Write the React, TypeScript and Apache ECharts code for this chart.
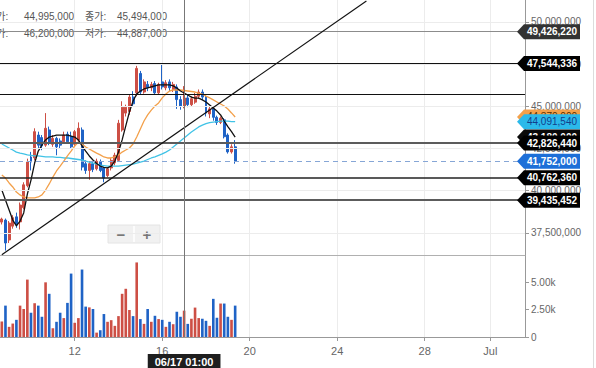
import React, { useEffect, useRef } from "react";
import * as echarts from "echarts";

// ---------- data ----------
// 4-hour slots starting 2021-06-08 17:00 (KST)
const SLOT_START = Date.UTC(2021, 5, 8, 17);
const SLOT_COUNT = 144;

// [open, close, low, high] in millions of KRW
const candles: number[][] = [
  [38.14, 38.32, 38.0, 38.4], [38.26, 36.9, 36.45, 38.35], [37.08, 38.08, 36.9, 38.2], [37.9, 38.4, 37.75, 38.55],
  [38.45, 38.0, 37.8, 38.7], [38.15, 39.15, 37.7, 39.3], [39.0, 40.35, 38.9, 40.5], [40.3, 41.7, 40.2, 41.9],
  [42.0, 41.7, 41.2, 42.3], [41.95, 43.5, 41.8, 43.7], [43.3, 42.7, 42.5, 43.5], [43.15, 42.65, 42.4, 43.3],
  [42.7, 43.7, 42.6, 44.6], [43.6, 42.85, 42.7, 43.8], [42.75, 43.1, 42.6, 43.3], [43.1, 42.6, 42.1, 43.2],
  [42.95, 42.7, 42.5, 43.1], [42.9, 43.3, 42.8, 43.5], [43.35, 42.9, 42.8, 43.5], [43.2, 42.6, 42.5, 43.5],
  [42.75, 43.5, 42.6, 43.6], [43.0, 43.7, 42.9, 44.05], [43.6, 41.4, 41.2, 43.75], [41.6, 41.2, 41.0, 41.8],
  [41.2, 41.6, 40.65, 41.75], [41.6, 41.25, 41.1, 41.75], [41.3, 41.75, 41.2, 41.9], [41.7, 41.2, 41.1, 41.85],
  [41.35, 40.75, 40.5, 41.4], [40.9, 41.3, 40.8, 41.4], [41.35, 41.8, 41.2, 41.95], [41.65, 42.1, 41.5, 42.25],
  [41.8, 44.0, 41.7, 44.2], [43.6, 44.95, 43.5, 45.3], [44.6, 44.95, 44.4, 45.1], [44.7, 45.55, 44.5, 45.7],
  [45.55, 45.15, 45.0, 45.9], [45.8, 47.25, 45.6, 47.4], [46.95, 45.85, 45.7, 47.1], [45.85, 46.45, 45.75, 46.6],
  [46.3, 46.1, 45.9, 46.5], [46.1, 46.3, 45.9, 46.45], [46.35, 45.8, 45.7, 46.5], [45.8, 46.3, 45.7, 46.4],
  [46.45, 46.15, 46.0, 47.54], [46.1, 46.4, 45.95, 46.55], [46.45, 46.1, 45.9, 46.6], [46.0, 46.3, 45.85, 46.45],
  [46.15, 45.4, 44.85, 46.3], [45.4, 44.99, 44.8, 45.6], [44.995, 45.494, 44.887, 46.2], [45.5, 45.1, 44.95, 45.7],
  [45.1, 45.45, 45.0, 45.6], [45.25, 45.6, 45.15, 45.8], [45.6, 45.85, 45.45, 46.0], [45.85, 45.55, 45.4, 46.0],
  [45.55, 44.6, 44.4, 45.7], [44.55, 44.85, 44.3, 45.0], [44.85, 44.35, 44.15, 44.95], [44.35, 44.05, 43.9, 44.45],
  [44.05, 44.3, 43.95, 44.4], [44.2, 43.2, 43.1, 44.3], [43.3, 42.3, 42.2, 43.4], [42.3, 42.6, 42.2, 42.75],
  [42.6, 41.752, 41.6, 43.0],
];

// volume, thousands
const volumes = [
  1.42, 2.87, 0.93, 1.23, 1.57, 2.87, 2.56, 5.25, 2.22, 3.09, 2.87, 1.85, 5.0, 3.95, 0.8, 1.39,
  2.22, 1.73, 3.12, 5.8, 1.3, 1.73, 6.17, 2.78, 2.71, 2.56, 0.4, 0.62, 2.1, 1.39, 1.54, 1.02,
  1.91, 3.95, 4.41, 2.47, 1.91, 6.82, 1.64, 1.2, 2.56, 1.39, 1.94, 1.64, 1.57, 0.93, 1.39, 1.17,
  2.31, 1.85, 2.41, 1.2, 1.67, 2.69, 1.73, 1.67, 1.48, 1.02, 3.49, 1.76, 3.06, 3.06, 1.85, 1.57, 2.87,
];

// moving averages (millions)
const maShort = [
  40.04, 39.45, 38.86, 38.26, 37.91, 38.2, 38.68, 39.8, 40.63, 41.64, 42.35, 42.71, 43.01, 43.18, 43.24, 43.3,
  43.3, 43.3, 43.3, 43.24, 43.18, 43.01, 42.65, 42.35, 42.06, 41.82, 41.61, 41.46, 41.38, 41.35, 41.46, 41.76,
  42.29, 43.01, 43.84, 44.67, 45.32, 45.73, 45.91, 46.03, 46.09, 46.15, 46.21, 46.27, 46.27, 46.27, 46.27, 46.21,
  46.09, 45.91, 45.79, 45.67, 45.55, 45.49, 45.49, 45.38, 45.26, 45.08, 44.9, 44.72, 44.49, 44.13, 43.8, 43.5, 43.18,
];
const maMid = [
  40.93, 40.75, 40.46, 40.22, 39.92, 39.75, 39.63, 39.57, 39.57, 39.57, 39.63, 39.75, 40.04, 40.4, 40.81, 41.17,
  41.46, 41.76, 42.06, 42.35, 42.65, 42.89, 42.77, 42.59, 42.47, 42.35, 42.23, 42.12, 42.0, 41.94, 41.94, 42.0,
  42.12, 42.29, 42.41, 42.53, 42.77, 43.18, 43.66, 44.13, 44.49, 44.78, 45.02, 45.2, 45.5, 45.73, 45.91, 45.97,
  45.97, 45.97, 45.94, 45.91, 45.88, 45.85, 45.79, 45.73, 45.61, 45.5, 45.38, 45.26, 45.14, 45.02, 44.84, 44.61, 44.37,
];
const maLong = [
  42.77, 42.65, 42.53, 42.41, 42.29, 42.23, 42.18, 42.12, 42.09, 42.06, 42.06, 42.03, 42.0, 42.0, 42.0, 41.97,
  41.97, 41.94, 41.94, 41.91, 41.88, 41.85, 41.82, 41.76, 41.7, 41.64, 41.58, 41.52, 41.49, 41.46, 41.46, 41.46,
  41.46, 41.49, 41.52, 41.55, 41.58, 41.64, 41.7, 41.76, 41.85, 41.94, 42.0, 42.09, 42.18, 42.29, 42.41, 42.59,
  42.77, 42.95, 43.12, 43.3, 43.48, 43.63, 43.78, 43.89, 43.98, 44.04, 44.07, 44.1, 44.13, 44.13, 44.13, 44.1, 44.09154,
];

// horizontal price levels (KRW)
const levelValues = [49426220, 47544336, 45714000, 42826440, 41752000, 40762360, 39435452];
// levels that carry a tag on the price axis
const taggedLevels = [49426220, 47544336, 42826440, 41752000, 40762360, 39435452];

// trend line: [slot index, price in millions]
const trendPoints: [number, number][] = [[0, 36.21], [100, 51.25]];

const priceTicks = [37500000, 40000000, 42500000, 45000000, 47500000, 50000000];
const PRICE_MIN = 36189000;
const PRICE_MAX = 51304000;
const VOLUME_MAX = 7500;

const xTickLabels: Record<string, string> = {
  "06/12 01:00": "12",
  "06/16 01:00": "16",
  "06/20 01:00": "20",
  "06/24 01:00": "24",
  "06/28 01:00": "28",
  "07/01 01:00": "Jul",
};

const CROSS_INDEX = 50;

// ---------- build ----------
const pad = (n: number) => String(n).padStart(2, "0");
const categories: string[] = [];
for (let i = 0; i < SLOT_COUNT; i++) {
  const d = new Date(SLOT_START + i * 4 * 3600 * 1000);
  categories.push(`${pad(d.getUTCMonth() + 1)}/${pad(d.getUTCDate())} ${pad(d.getUTCHours())}:00`);
}
const M = (v: number) => Math.round(v * 1e6);
const fmt = (v: number) => Math.round(v).toLocaleString("en-US");

const FONT = 'Arial, "Liberation Sans", "Noto Sans CJK KR", sans-serif';
const RED = "#cd4f45";
const BLUE = "#1f63c6";

const showTick = (_i: number, v: string) => v in xTickLabels;

export default function App() {
  const ref = useRef<HTMLDivElement>(null);
  useEffect(() => {
    if (!ref.current) return;
    const chart = echarts.init(ref.current, undefined, { renderer: "svg" });

    const candleData = candles.map(([o, c, l, h]) => [M(o), M(c), M(l), M(h)]);
    const volData = volumes.map((v, i) => ({
      value: Math.round(v * 1000),
      itemStyle: { color: candles[i][1] >= candles[i][0] ? RED : BLUE },
    }));

    const levelStyles = [
      { color: "#8c8c8c", width: 1, type: "solid" },
      { color: "#111", width: 1.2, type: "solid" },
      { color: "#111", width: 1.2, type: "solid" },
      { color: "#5c5c5c", width: 2, type: "solid" },
      { color: "#86a6d6", width: 1, type: [5, 4] },
      { color: "#222", width: 1.5, type: "solid" },
      { color: "#5c5c5c", width: 2, type: "solid" },
    ];

    const tagValues = [
      M(maMid[maMid.length - 1]),
      M(maLong[maLong.length - 1]),
      M(maShort[maShort.length - 1]),
      ...taggedLevels,
    ];
    const tagFill = ["#f3a04a", "#2bb9ea", "#0a0a0a", "#333333", "#000000", "#000000", "#1d6fd8", "#000000", "#000000"];
    const tagText = ["#5a2f00", "#123e8c", "#fff", "#fff", "#fff", "#fff", "#fff", "#fff", "#fff"];
    const tagBold = [false, false, true, true, true, true, true, true, true];

    const c = candles[CROSS_INDEX];
    const infoRows = [
      ["시가:", fmt(M(c[0])), "종가:", fmt(M(c[1]))],
      ["고가:", fmt(M(c[3])), "저가:", fmt(M(c[2]))],
    ];
    const infoGraphics: any[] = [];
    infoRows.forEach((row, r) => {
      const y = 16 + r * 17.5;
      const xs = [-13, 24, 85, 117];
      row.forEach((t, k) => {
        infoGraphics.push({
          type: "text",
          x: xs[k],
          y,
          z: 0,
          style: { text: t, fill: "#555", fontSize: 10, fontFamily: FONT, verticalAlign: "middle" },
        });
      });
    });

    const option: any = {
      animation: false,
      textStyle: { fontFamily: FONT },
      grid: [
        { left: 0, top: 0, width: 525, height: 255 },
        { left: 0, top: 255, width: 525, height: 82 },
      ],
      xAxis: [
        {
          type: "category",
          gridIndex: 0,
          data: categories,
          boundaryGap: true,
          axisLine: { show: true, lineStyle: { color: "#b0b0b0" } },
          axisTick: { show: false },
          axisLabel: { show: false },
          splitLine: { show: true, interval: showTick, alignWithLabel: true, lineStyle: { color: "#ececec" } },
        },
        {
          type: "category",
          gridIndex: 1,
          data: categories,
          boundaryGap: true,
          axisLine: { show: true, lineStyle: { color: "#999" } },
          axisTick: { show: true, interval: showTick, alignWithLabel: true, length: 4, lineStyle: { color: "#999" } },
          axisLabel: {
            interval: showTick,
            formatter: (v: string) => xTickLabels[v] ?? "",
            color: "#666",
            fontSize: 11,
            margin: 8,
          },
          splitLine: { show: true, interval: showTick, alignWithLabel: true, lineStyle: { color: "#ececec" } },
        },
      ],
      yAxis: [
        {
          type: "value",
          gridIndex: 0,
          position: "right",
          min: PRICE_MIN,
          max: PRICE_MAX,
          axisLine: { show: true, lineStyle: { color: "#999" } },
          axisTick: { show: true, length: 4, customValues: priceTicks, lineStyle: { color: "#999" } },
          axisLabel: {
            customValues: priceTicks,
            formatter: (v: number) => fmt(v),
            color: "#666",
            fontSize: 10,
            margin: 6,
          },
          splitLine: { show: false },
        },
        {
          type: "value",
          gridIndex: 1,
          position: "right",
          min: 0,
          max: VOLUME_MAX,
          interval: 2500,
          axisLine: { show: true, lineStyle: { color: "#999" } },
          axisTick: { show: true, length: 4, lineStyle: { color: "#999" } },
          axisLabel: {
            showMaxLabel: false,
            formatter: (v: number) => (v === 0 ? "0" : (v / 1000).toFixed(2) + "k"),
            color: "#666",
            fontSize: 10,
            margin: 6,
          },
          splitLine: { show: false },
        },
      ],
      series: [
        {
          name: "grid",
          type: "line",
          xAxisIndex: 0,
          yAxisIndex: 0,
          data: [],
          z: 1,
          markLine: {
            silent: true,
            symbol: "none",
            label: { show: false },
            lineStyle: { color: "#ececec", width: 1, type: "solid" },
            data: priceTicks.map((v) => ({ yAxis: v })),
          },
        },
        {
          name: "price",
          type: "candlestick",
          xAxisIndex: 0,
          yAxisIndex: 0,
          data: candleData,
          barWidth: "68%",
          z: 2,
          itemStyle: { color: RED, color0: BLUE, borderColor: RED, borderColor0: BLUE, borderWidth: 1 },
          markLine: {
            silent: true,
            symbol: "none",
            label: { show: false },
            data: [
              ...levelValues.map((v, i) => ({ yAxis: v, lineStyle: levelStyles[i] })),
              [
                { coord: [categories[trendPoints[0][0]], M(trendPoints[0][1])], lineStyle: { color: "#111", width: 1.2, type: "solid" } },
                { coord: [categories[trendPoints[1][0]], M(trendPoints[1][1])] },
              ],
              { xAxis: categories[CROSS_INDEX], lineStyle: { color: "#777", width: 1, type: "solid" } },
            ],
          },
        },
        {
          name: "maLong",
          type: "line",
          xAxisIndex: 0,
          yAxisIndex: 0,
          data: maLong.map(M),
          symbol: "none",
          z: 3,
          lineStyle: { color: "#41c3e6", width: 1.3 },
        },
        {
          name: "maMid",
          type: "line",
          xAxisIndex: 0,
          yAxisIndex: 0,
          data: maMid.map(M),
          symbol: "none",
          z: 3,
          lineStyle: { color: "#f3a04a", width: 1.3 },
        },
        {
          name: "maShort",
          type: "line",
          xAxisIndex: 0,
          yAxisIndex: 0,
          data: maShort.map(M),
          symbol: "none",
          z: 3,
          lineStyle: { color: "#111", width: 1.3 },
        },
        {
          name: "volume",
          type: "bar",
          xAxisIndex: 1,
          yAxisIndex: 1,
          data: volData,
          barWidth: "72%",
          markLine: {
            silent: true,
            symbol: "none",
            data: [
              {
                xAxis: categories[CROSS_INDEX],
                lineStyle: { color: "#777", width: 1, type: "solid" },
                label: {
                  show: true,
                  position: "start",
                  distance: 17,
                  formatter: categories[CROSS_INDEX],
                  backgroundColor: "#1e1e1e",
                  color: "#fff",
                  fontSize: 11,
                  fontWeight: "bold",
                  padding: [3, 7],
                },
              },
            ],
          },
        },
        {
          name: "tags",
          type: "custom",
          xAxisIndex: 0,
          yAxisIndex: 0,
          clip: false,
          z: 10,
          encode: { x: 0, y: 1 },
          data: tagValues.map((v) => [0, v]),
          renderItem: (params: any, api: any) => {
            const i = params.dataIndex;
            const val = api.value(1);
            const y = api.coord([0, val])[1];
            const cs = params.coordSys;
            const x0 = cs.x + cs.width;
            const h = 7.5;
            return {
              type: "group",
              children: [
                {
                  type: "polygon",
                  shape: { points: [[x0 - 8, y], [x0 - 1, y - h], [x0 + 55, y - h], [x0 + 55, y + h], [x0 - 1, y + h]] },
                  style: { fill: tagFill[i] },
                },
                {
                  type: "text",
                  style: {
                    text: fmt(val),
                    x: x0 + 27,
                    y: y,
                    align: "center",
                    verticalAlign: "middle",
                    fill: tagText[i],
                    fontSize: 10,
                    fontWeight: tagBold[i] ? "bold" : "normal",
                    fontFamily: FONT,
                  },
                },
              ],
            };
          },
        },
      ],
      graphic: [
        ...infoGraphics,
        {
          type: "group",
          x: 108,
          y: 225,
          children: [
            { type: "rect", shape: { x: 0, y: 0, width: 52, height: 18 }, style: { fill: "#f1f1f1", stroke: "#e4e4e4" } },
            { type: "line", shape: { x1: 26, y1: 1, x2: 26, y2: 17 }, style: { stroke: "#ffffff", lineWidth: 1.5 } },
            { type: "text", style: { text: "−", x: 13, y: 9, align: "center", verticalAlign: "middle", fill: "#777", fontSize: 15, fontWeight: "bold", fontFamily: FONT } },
            { type: "text", style: { text: "+", x: 39, y: 9, align: "center", verticalAlign: "middle", fill: "#777", fontSize: 15, fontWeight: "bold", fontFamily: FONT } },
          ],
        },
        { type: "line", shape: { x1: 593.5, y1: 0, x2: 593.5, y2: 368 }, style: { stroke: "#dcdcdc", lineWidth: 1 } },
      ],
    };

    chart.setOption(option);
    return () => chart.dispose();
  }, []);

  return <div ref={ref} style={{ position: "fixed", left: 0, top: 0, width: 596, height: 368, background: "#fff" }} />;
}
